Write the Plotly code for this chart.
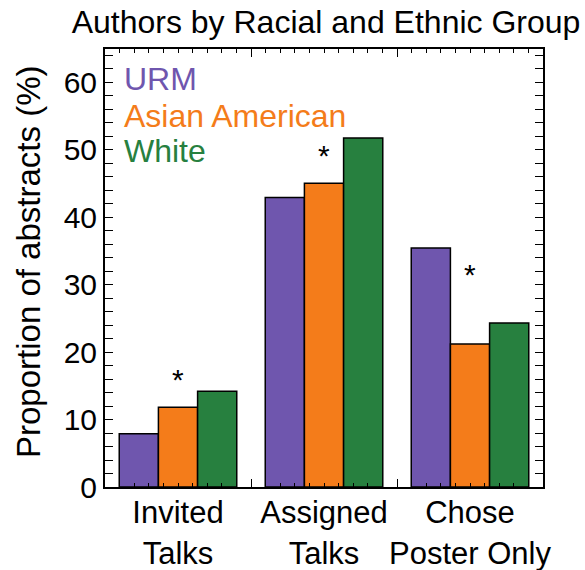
import plotly.graph_objects as go

categories = ["Invited<br>Talks", "Assigned<br>Talks", "Chose<br>Poster Only"]
series_names = ["URM", "Asian American", "White"]
urm = [7.9, 42.9, 35.4]
asian = [11.8, 45.0, 21.2]
white = [14.2, 51.7, 24.3]
star_y = [17.0, 50.1, 32.5]
colors = ["#6f56ae", "#f47c1a", "#27803f"]
y_title = "Proportion of abstracts (%)"
chart_title = "Authors by Racial and Ethnic Group"

FONT = "Liberation Sans, Arial, sans-serif"
x = [0, 1, 2]

fig = go.Figure()
for name, vals, col in zip(series_names, [urm, asian, white], colors):
    fig.add_trace(go.Bar(x=x, y=vals, name=name, marker=dict(color=col, line=dict(color="black", width=1.5)),
                         showlegend=False))

# asterisks above the orange bars
for xi, yi in zip(x, star_y):
    fig.add_annotation(x=xi, y=yi, text="*", showarrow=False, yshift=-7,
                       font=dict(size=30, color="black", family=FONT), xref="x", yref="y")

# colored text legend
legend_y = [0.9315, 0.847, 0.767]
for name, col, ly in zip(series_names, colors, legend_y):
    fig.add_annotation(x=0.039, y=ly, xref="paper", yref="paper", text=name,
                       showarrow=False, xanchor="left", yanchor="middle",
                       font=dict(size=32, color=col, family=FONT))

# y-axis title as rotated annotation
fig.add_annotation(x=(28 - 105) / 438, y=(487 - 262) / 438, xref="paper", yref="paper",
                   text=y_title, textangle=-90, showarrow=False, xanchor="center", yanchor="middle",
                   font=dict(size=33, color="black", family=FONT))

fig.update_layout(
    width=585, height=570,
    margin=dict(l=105, r=42, t=49, b=83),
    paper_bgcolor="white", plot_bgcolor="white",
    barmode="group", bargap=0.195, bargroupgap=0,
    font=dict(family=FONT, size=31, color="black"),
    title=dict(text=chart_title, x=326/585, xanchor="center",
               y=0.982, yanchor="top", font=dict(size=32, family=FONT, color="black")),
    xaxis=dict(range=[-0.5, 2.5], tickvals=x, ticktext=categories, ticks="", tickangle=0,
               automargin=False, ticklabelstandoff=-3,
               showline=True, linecolor="black", linewidth=2, mirror=True,
               showgrid=False, zeroline=False, tickfont=dict(size=31)),
    xaxis2=dict(overlaying="x", matches="x", range=[-0.5, 2.5], side="bottom", automargin=False,
                tickvals=[0.5, 1.5], ticks="inside", ticklen=8, tickwidth=1.2, tickcolor="black",
                showticklabels=False, mirror="ticks", showgrid=False, zeroline=False,
                minor=dict(dtick=0.1, tick0=-0.5, ticks="inside", ticklen=4, tickwidth=1, tickcolor="black")),
    yaxis=dict(range=[0, 64.9], dtick=10, ticks="inside", ticklen=8, tickwidth=1.2, tickcolor="black",
               automargin=False,
               showline=True, linecolor="black", linewidth=2, mirror="allticks",
               showgrid=False, zeroline=False, tickfont=dict(size=30),
               minor=dict(dtick=2, ticks="inside", ticklen=4, tickwidth=1, tickcolor="black")),
)
# invisible trace to activate xaxis2
fig.add_trace(go.Scatter(x=[0], y=[0], xaxis="x2", mode="markers", marker=dict(opacity=0),
                         showlegend=False, hoverinfo="skip"))

fig.write_html("out.html")
